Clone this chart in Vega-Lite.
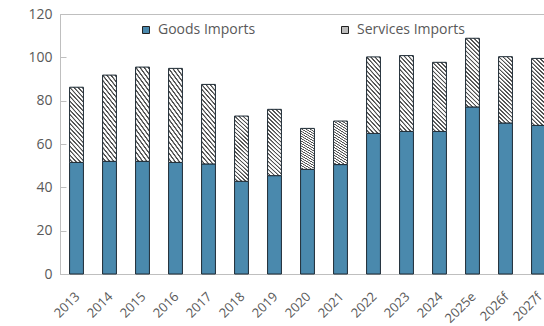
{
  "$schema": "https://vega.github.io/schema/vega-lite/v6.json",
  "width": 495,
  "height": 260,
  "autosize": {"type": "none"},
  "padding": {"left": 60, "top": 14, "right": 0, "bottom": 52},
  "background": "#ffffff",
  "config": {
    "font": "Open Sans",
    "view": {"stroke": "#bfbfbf", "strokeWidth": 1},
    "axis": {"labelColor": "#595959", "domainColor": "#bfbfbf", "tickColor": "#bfbfbf", "grid": false, "title": null}
  },
  "data": {
    "values": [
      {"year": "2013", "type": "Goods Imports", "value": 51.5},
      {"year": "2014", "type": "Goods Imports", "value": 52.0},
      {"year": "2015", "type": "Goods Imports", "value": 52.0},
      {"year": "2016", "type": "Goods Imports", "value": 51.5},
      {"year": "2017", "type": "Goods Imports", "value": 50.8},
      {"year": "2018", "type": "Goods Imports", "value": 42.8},
      {"year": "2019", "type": "Goods Imports", "value": 45.4},
      {"year": "2020", "type": "Goods Imports", "value": 48.3},
      {"year": "2021", "type": "Goods Imports", "value": 50.5},
      {"year": "2022", "type": "Goods Imports", "value": 64.9},
      {"year": "2023", "type": "Goods Imports", "value": 65.8},
      {"year": "2024", "type": "Goods Imports", "value": 65.8},
      {"year": "2025e", "type": "Goods Imports", "value": 77.1},
      {"year": "2026f", "type": "Goods Imports", "value": 69.7},
      {"year": "2027f", "type": "Goods Imports", "value": 68.6},
      {"year": "2013", "type": "Services Imports", "value": 34.7},
      {"year": "2014", "type": "Services Imports", "value": 39.8},
      {"year": "2015", "type": "Services Imports", "value": 43.5},
      {"year": "2016", "type": "Services Imports", "value": 43.4},
      {"year": "2017", "type": "Services Imports", "value": 36.7},
      {"year": "2018", "type": "Services Imports", "value": 30.1},
      {"year": "2019", "type": "Services Imports", "value": 30.6},
      {"year": "2020", "type": "Services Imports", "value": 18.9},
      {"year": "2021", "type": "Services Imports", "value": 20.1},
      {"year": "2022", "type": "Services Imports", "value": 35.3},
      {"year": "2023", "type": "Services Imports", "value": 35.0},
      {"year": "2024", "type": "Services Imports", "value": 31.9},
      {"year": "2025e", "type": "Services Imports", "value": 31.7},
      {"year": "2026f", "type": "Services Imports", "value": 30.6},
      {"year": "2027f", "type": "Services Imports", "value": 30.9}
    ]
  },
  "mark": {"type": "bar", "stroke": "#1e2b35", "strokeWidth": 1},
  "encoding": {
    "x": {
      "field": "year", "type": "ordinal", "sort": null,
      "scale": {"paddingInner": 0.58, "paddingOuter": 0.29},
      "axis": {"labelAngle": -45, "labelFontSize": 13, "labelPadding": 21, "labelOffset": -3, "bandPosition": 0, "tickSize": -5, "domainWidth": 1}
    },
    "y": {
      "field": "value", "type": "quantitative", "stack": "zero",
      "scale": {"domain": [0, 120], "nice": false},
      "axis": {"values": [0, 20, 40, 60, 80, 100, 120], "labelFontSize": 14, "labelPadding": 14, "tickSize": -6}
    },
    "order": {"field": "type", "sort": "ascending"},
    "fill": {
      "field": "type", "type": "nominal",
      "scale": {"domain": ["Goods Imports", "Services Imports"], "range": ["#4a89ad", "#bcbcbc"]},
      "legend": {
        "orient": "none", "legendX": 79, "legendY": 9, "direction": "horizontal",
        "title": null, "symbolType": "square", "symbolSize": 49, "symbolStrokeColor": "#222222", "symbolStrokeWidth": 1,
        "labelFontSize": 14, "labelColor": "#595959", "columnPadding": 82, "padding": 0, "labelOffset": 5, "labelLimit": 300,
        "encode": {
          "symbols": {
            "update": {
              "stroke": {"value": "#222222"},
              "strokeWidth": {"value": 1},
              "size": {"value": 49},
              "shape": {"value": "square"},
              "fill": [
                {
                  "test": "datum.value === 'Services Imports'",
                  "value": {
                    "gradient": "linear", "x1": 0, "y1": 1, "x2": 1, "y2": 0,
                    "stops": [
                      {"offset": 0, "color": "#ffffff"}, {"offset": 0.15, "color": "#ffffff"}, {"offset": 0.2, "color": "#505050"}, {"offset": 0.28, "color": "#505050"}, {"offset": 0.3333, "color": "#ffffff"},
                      {"offset": 0.48, "color": "#ffffff"}, {"offset": 0.53, "color": "#505050"}, {"offset": 0.61, "color": "#505050"}, {"offset": 0.6667, "color": "#ffffff"},
                      {"offset": 0.81, "color": "#ffffff"}, {"offset": 0.86, "color": "#505050"}, {"offset": 0.94, "color": "#505050"}, {"offset": 1, "color": "#ffffff"}
                    ]
                  }
                },
                {"scale": "fill", "field": "value"}
              ]
            }
          }
        }
      },
      "condition": {
        "test": "datum.type === 'Services Imports'",
        "value": {
          "gradient": "linear", "x1": 0, "y1": 1, "x2": 0.23, "y2": -0.15,
          "stops": [
            {"offset": 0, "color": "#ffffff"},
            {"offset": 0.0225, "color": "#ffffff"}, {"offset": 0.03, "color": "#505050"}, {"offset": 0.0425, "color": "#505050"}, {"offset": 0.05, "color": "#ffffff"},
            {"offset": 0.0725, "color": "#ffffff"}, {"offset": 0.08, "color": "#505050"}, {"offset": 0.0925, "color": "#505050"}, {"offset": 0.1, "color": "#ffffff"},
            {"offset": 0.1225, "color": "#ffffff"}, {"offset": 0.13, "color": "#505050"}, {"offset": 0.1425, "color": "#505050"}, {"offset": 0.15, "color": "#ffffff"},
            {"offset": 0.1725, "color": "#ffffff"}, {"offset": 0.18, "color": "#505050"}, {"offset": 0.1925, "color": "#505050"}, {"offset": 0.2, "color": "#ffffff"},
            {"offset": 0.2225, "color": "#ffffff"}, {"offset": 0.23, "color": "#505050"}, {"offset": 0.2425, "color": "#505050"}, {"offset": 0.25, "color": "#ffffff"},
            {"offset": 0.2725, "color": "#ffffff"}, {"offset": 0.28, "color": "#505050"}, {"offset": 0.2925, "color": "#505050"}, {"offset": 0.3, "color": "#ffffff"},
            {"offset": 0.3225, "color": "#ffffff"}, {"offset": 0.33, "color": "#505050"}, {"offset": 0.3425, "color": "#505050"}, {"offset": 0.35, "color": "#ffffff"},
            {"offset": 0.3725, "color": "#ffffff"}, {"offset": 0.38, "color": "#505050"}, {"offset": 0.3925, "color": "#505050"}, {"offset": 0.4, "color": "#ffffff"},
            {"offset": 0.4225, "color": "#ffffff"}, {"offset": 0.43, "color": "#505050"}, {"offset": 0.4425, "color": "#505050"}, {"offset": 0.45, "color": "#ffffff"},
            {"offset": 0.4725, "color": "#ffffff"}, {"offset": 0.48, "color": "#505050"}, {"offset": 0.4925, "color": "#505050"}, {"offset": 0.5, "color": "#ffffff"},
            {"offset": 0.5225, "color": "#ffffff"}, {"offset": 0.53, "color": "#505050"}, {"offset": 0.5425, "color": "#505050"}, {"offset": 0.55, "color": "#ffffff"},
            {"offset": 0.5725, "color": "#ffffff"}, {"offset": 0.58, "color": "#505050"}, {"offset": 0.5925, "color": "#505050"}, {"offset": 0.6, "color": "#ffffff"},
            {"offset": 0.6225, "color": "#ffffff"}, {"offset": 0.63, "color": "#505050"}, {"offset": 0.6425, "color": "#505050"}, {"offset": 0.65, "color": "#ffffff"},
            {"offset": 0.6725, "color": "#ffffff"}, {"offset": 0.68, "color": "#505050"}, {"offset": 0.6925, "color": "#505050"}, {"offset": 0.7, "color": "#ffffff"},
            {"offset": 0.7225, "color": "#ffffff"}, {"offset": 0.73, "color": "#505050"}, {"offset": 0.7425, "color": "#505050"}, {"offset": 0.75, "color": "#ffffff"},
            {"offset": 0.7725, "color": "#ffffff"}, {"offset": 0.78, "color": "#505050"}, {"offset": 0.7925, "color": "#505050"}, {"offset": 0.8, "color": "#ffffff"},
            {"offset": 0.8225, "color": "#ffffff"}, {"offset": 0.83, "color": "#505050"}, {"offset": 0.8425, "color": "#505050"}, {"offset": 0.85, "color": "#ffffff"},
            {"offset": 0.8725, "color": "#ffffff"}, {"offset": 0.88, "color": "#505050"}, {"offset": 0.8925, "color": "#505050"}, {"offset": 0.9, "color": "#ffffff"},
            {"offset": 0.9225, "color": "#ffffff"}, {"offset": 0.93, "color": "#505050"}, {"offset": 0.9425, "color": "#505050"}, {"offset": 0.95, "color": "#ffffff"},
            {"offset": 0.9725, "color": "#ffffff"}, {"offset": 0.98, "color": "#505050"}, {"offset": 0.9925, "color": "#505050"}, {"offset": 1, "color": "#ffffff"}
          ]
        }
      }
    }
  }
}
